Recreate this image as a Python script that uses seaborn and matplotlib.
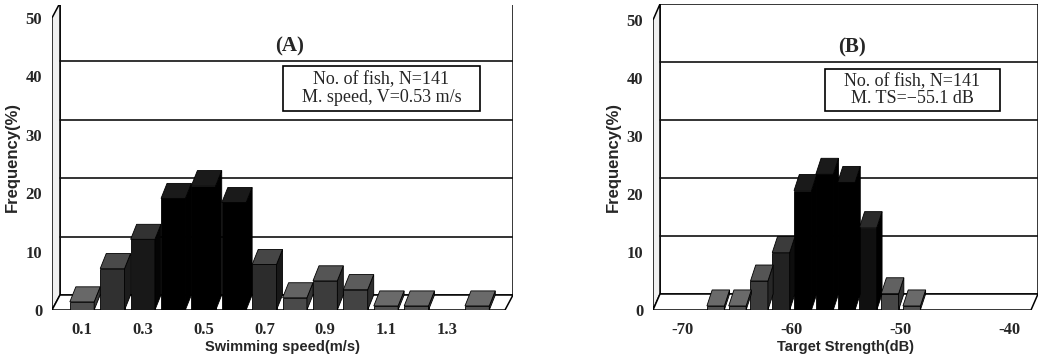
import numpy as np
import pandas as pd
import matplotlib
matplotlib.use("Agg")
import matplotlib.pyplot as plt
import seaborn as sns
from matplotlib.patches import Polygon, Rectangle

# ---------------- data ----------------
speed_bins = [0.1, 0.2, 0.3, 0.4, 0.5, 0.6, 0.7, 0.8, 0.9, 1.0, 1.1, 1.2, 1.3, 1.4]
speed_freq = [1.4, 7.1, 12.1, 19.1, 21.3, 18.4, 7.8, 2.1, 5.0, 3.5, 0.7, 0.7, 0.0, 0.7]
speed_ticks = [0.1, 0.3, 0.5, 0.7, 0.9, 1.1, 1.3]

ts_bins = [-67, -65, -63, -61, -59, -57, -55, -53, -51, -49]
ts_freq = [0.7, 0.7, 5.0, 9.9, 20.6, 23.4, 22.0, 14.2, 2.8, 0.7]
ts_ticks = [-70, -60, -50, -40]

freq_ticks = [0, 10, 20, 30, 40, 50]

# ---------------- style ----------------
sns.set_style("white")
plt.rcParams["font.family"] = ["Liberation Serif", "DejaVu Serif"]
LABEL_FONT = ["Liberation Sans Narrow", "Liberation Sans", "DejaVu Sans"]

W, H = 1040, 357
fig = plt.figure(figsize=(W / 100, H / 100), dpi=100)


def px_axes(left, right, top, bottom):
    return fig.add_axes([left / W, 1 - bottom / H, (right - left) / W, (bottom - top) / H])


def bar_color(v):
    return plt.cm.Greys(0.74 + 0.26 * min(v / 18.0, 1.0))


def panel(ax, bins, ys, vlim, ylim, ticks, ticklabels, xlabel, dx_px, dy_px):
    step = bins[1] - bins[0]
    to_idx = lambda v: (v - bins[0]) / step
    xlim = (to_idx(vlim[0]), to_idx(vlim[1]))
    cats = [str(b) for b in bins]
    df = pd.DataFrame({"x": cats, "y": ys})
    ax.set_xlim(*xlim)
    ax.set_ylim(*ylim)
    bb = ax.get_position()
    ax_w = bb.width * W
    ax_h = bb.height * H
    dx = dx_px * (xlim[1] - xlim[0]) / ax_w
    dy = dy_px * (ylim[1] - ylim[0]) / ax_h
    x0 = xlim[0]
    x1 = xlim[1] - dx

    # back wall, left wall, floor
    ax.add_patch(Polygon([(x0 + dx, dy), (x1 + dx, dy), (x1 + dx, 50 + dy), (x0 + dx, 50 + dy)],
                         closed=True, fc="white", ec="black", lw=1.1, zorder=0.5))
    ax.add_patch(Polygon([(x0, 0), (x0, 50), (x0 + dx, 50 + dy), (x0 + dx, dy)],
                         closed=True, fc="#f0f0f0", ec="black", lw=1.1, zorder=0.6))
    ax.add_patch(Polygon([(x0, 0), (x1, 0), (x1 + dx, dy), (x0 + dx, dy)],
                         closed=True, fc="white", ec="black", lw=1.1, zorder=0.6))
    for g in freq_ticks[1:-1]:
        ax.plot([x0 + dx, x1 + dx], [g + dy, g + dy], color="#111111", lw=1.2,
                zorder=0.7)
    nbg = len(ax.patches)

    sns.barplot(data=df, x="x", y="y", order=cats, color="#333333",
                errorbar=None, width=0.8, ax=ax, zorder=2,
                edgecolor="black", linewidth=0.6)
    ax.set_xlim(*xlim)
    ax.set_ylim(*ylim)

    bdx, bdy = dx * 0.75, dy
    for p, v in zip(list(ax.patches)[nbg:], ys):
        h = p.get_height()
        if h <= 0:
            p.set_visible(False)
            continue
        c = bar_color(v)
        p.set_facecolor(c)
        bx, bw = p.get_x(), p.get_width()
        top = Polygon([(bx, h), (bx + bw, h), (bx + bw + bdx, h + bdy), (bx + bdx, h + bdy)],
                      closed=True, fc=tuple(min(1, ch + 0.10) for ch in c[:3]), ec="black",
                      lw=0.6, zorder=2.1)
        side = Polygon([(bx + bw, 0), (bx + bw, h), (bx + bw + bdx, h + bdy), (bx + bw + bdx, bdy)],
                       closed=True, fc=tuple(max(0, ch - 0.08) for ch in c[:3]), ec="black",
                       lw=0.6, zorder=2.05)
        ax.add_patch(side)
        ax.add_patch(top)

    for s in ax.spines.values():
        s.set_visible(False)
    ax.set_yticks(freq_ticks)
    ax.set_yticklabels([str(t) for t in freq_ticks], fontweight="bold", fontsize=12)
    ax.set_xticks([to_idx(t) for t in ticks])
    ax.set_xticklabels(ticklabels, fontweight="bold", fontsize=12)
    ax.tick_params(axis="both", length=0)
    ax.tick_params(axis="x", pad=9)
    ax.tick_params(axis="y", pad=7)
    ax.set_xlabel(xlabel, fontweight="bold", fontsize=10.5, family=LABEL_FONT, labelpad=1)
    ax.set_ylabel("Frequency(%)", fontweight="bold", fontsize=12, family=LABEL_FONT, labelpad=4)
    ax.grid(False)


# Panel A
axA = px_axes(52, 513, 5, 310)
panel(axA, speed_bins, speed_freq, (0.0013, 1.518), (0, 52.2), speed_ticks,
      [f"{t:.1f}" for t in speed_ticks], "Swimming speed(m/s)", 8, 15)

# Panel B
axB = px_axes(653, 1038, 4, 310)
panel(axB, ts_bins, ts_freq, (-72.75, -37.4), (0, 52.76), ts_ticks,
      [str(t) for t in ts_ticks], "Target Strength(dB)", 7, 16)


def info_box(left, right, top, bottom, text):
    fig.add_artist(Rectangle((left / W, 1 - bottom / H), (right - left) / W, (bottom - top) / H,
                             transform=fig.transFigure, fc="white", ec="black", lw=1.2,
                             zorder=5))
    fig.text((left + right) / 2 / W, 1 - (top + bottom) / 2 / H, text, ha="center",
             va="center", fontsize=13, linespacing=1.0, zorder=6)


# titles and info boxes
fig.text(290 / W, 1 - 46 / H, "(A)", ha="center", va="center", fontsize=15, fontweight="bold")
fig.text(852 / W, 1 - 47 / H, "(B)", ha="center", va="center", fontsize=15, fontweight="bold")
info_box(283, 480, 66, 111, "No. of fish, N=141\nM. speed, V=0.53 m/s")
info_box(825, 1000, 69, 111, "No. of fish, N=141\nM. TS=\u221255.1 dB")

fig.savefig("out.png", dpi=100)
